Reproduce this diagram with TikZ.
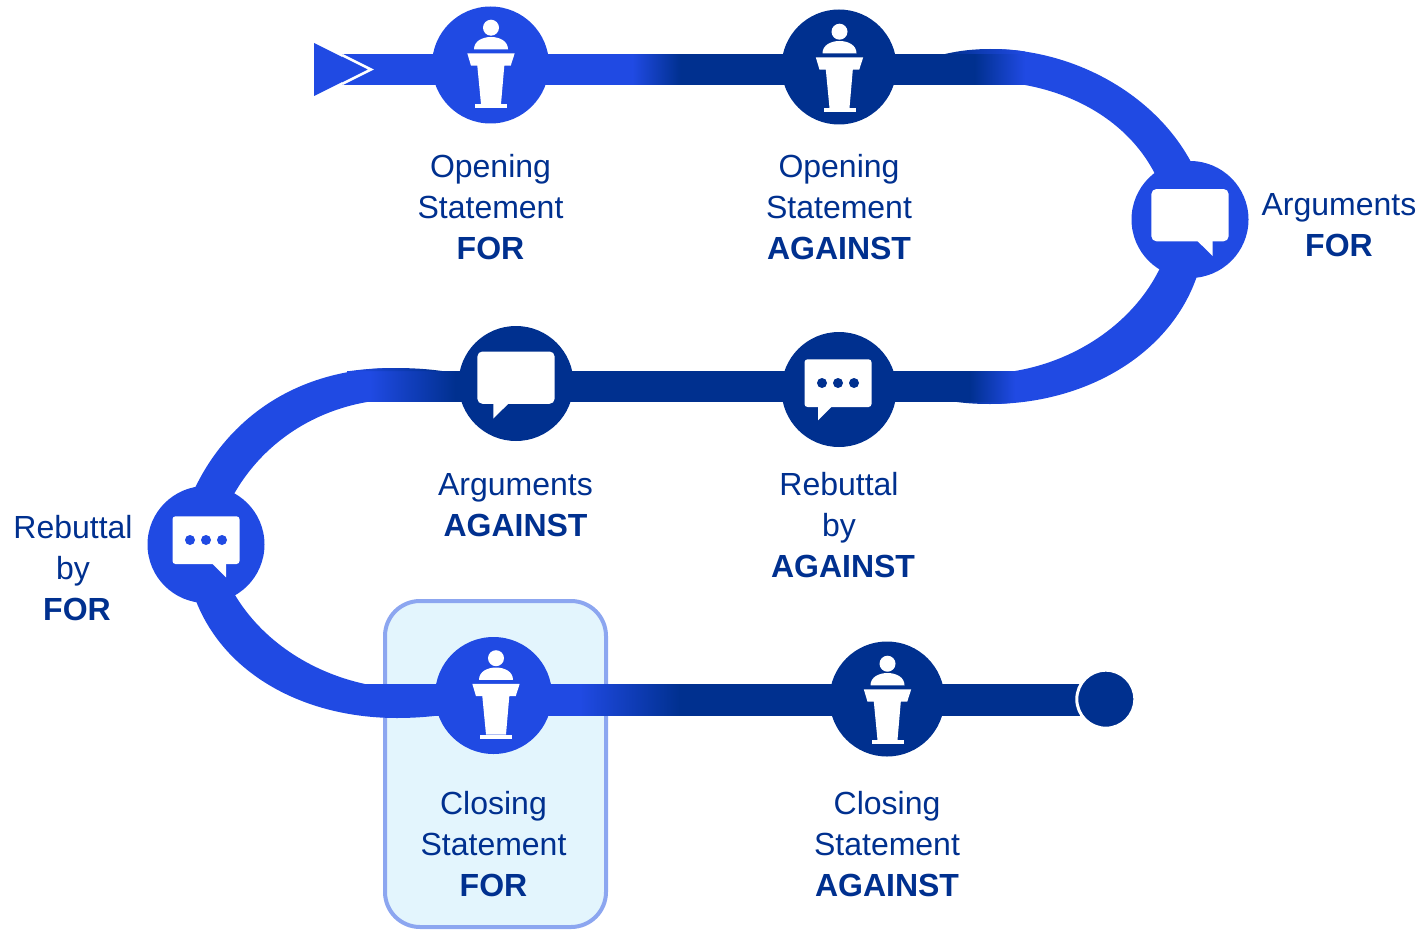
\documentclass[tikz,border=0pt]{standalone}
\usepackage{fontspec}
\setmainfont{Liberation Sans}
\definecolor{trackblue}{HTML}{204AE3}
\definecolor{trackdark}{HTML}{00308F}
\definecolor{boxfill}{HTML}{E3F5FD}
\definecolor{boxline}{HTML}{8CA6F0}
\tikzset{
    stopblue/.style={circle,fill=trackblue,minimum size=117pt,inner sep=0pt},
    stopdark/.style={circle,fill=trackdark,minimum size=115pt,inner sep=0pt},
    caption/.style={text=trackdark,align=center,inner sep=0pt,font=\fontsize{32}{41}\selectfont},
    track/.style={line width=31pt},
    wide track/.style={line width=32pt},
    bluetodark/.style={left color=trackblue,right color=trackdark},
    darktoblue/.style={left color=trackdark,right color=trackblue},
    pics/podium/.style={code={
        \fill[white] (0.5,-37.3) circle (8);
        \fill[white] (-16.5,-15.7) .. controls (-16.5,-24) and (-8,-28) .. (0.5,-28) .. controls (9,-28) and (17.5,-24) .. (17.5,-15.7) -- cycle;
        \fill[white] (-23.2,-11.7) -- (24.2,-11.7) -- (20.2,0.7) -- (13.8,0.7) -- (10.5,39) -- (-9.5,39) -- (-13.2,0.7) -- (-19.5,0.7) -- cycle;
        \fill[white] (-15.5,39) rectangle (16.5,43);
    }},
    pics/bigchat/.style={code={
        \fill[white,rounded corners=5pt] (-38.6,-30.5) rectangle (38.6,21.8);
        \fill[white] (7.7,21) -- (7.7,21.8) -- (22.7,36.5) -- (22.7,21) -- cycle;
    }},
    pics/smallchat/.style={code={
        \fill[white,rounded corners=3pt] (-33.5,-28.2) rectangle (33.5,19.5);
        \fill[white] (6.7,18) -- (6.7,19.5) -- (20,32.8) -- (20,18) -- cycle;
        \foreach \i in {-16,0,16} {
            \fill[#1] (\i,-4.5) circle (5);
        }
    }},
}

\begin{document}
\begin{tikzpicture}[x=1pt,y=-1pt]
    \useasboundingbox (0,0) rectangle (1424,931);
    % highlight behind the closing statement
    \draw[draw=boxline,fill=boxfill,line width=4pt,rounded corners=35pt] (385,601) rectangle (606,927);

    \coordinate (startbar) at (342,69.5);
    \coordinate (fadeA) at (633,69.5);
    \coordinate (fadeB) at (680,69.5);
    \coordinate (fadeC) at (975,69.5);
    \coordinate (fadeE) at (1015,386.5);
    \coordinate (fadeF) at (970,386.5);
    \coordinate (fadeG) at (455,386.5);
    \coordinate (fadeH) at (370,386.5);
    \coordinate (leftbar) at (347,386.5);
    \coordinate (lowbar) at (365,700);
    \coordinate (fadeI) at (580,700);
    \coordinate (fadeJ) at (680,700);
    \coordinate (endbar) at (1090,700);

    % the two big bends
    \fill[trackblue] (990,49) .. controls (1075,49) and (1155,95) .. (1191,162) -- (1155,174) .. controls (1130,125) and (1080,95) .. (1025,85) -- (1025,54) -- (990,54) -- cycle;
    \fill[trackblue] (1197,276) .. controls (1170,355) and (1085,404) .. (990,404) -- (990,395) -- (1015,371) .. controls (1080,360) and (1135,320) .. (1160,268) -- cycle;
    \fill[trackblue] (195,488) .. controls (225,425) and (290,368) .. (395,368) -- (395,385) -- (367,402) .. controls (310,412) and (262,445) .. (234,494) -- cycle;
    \fill[trackblue] (196,601) .. controls (225,675) and (305,718) .. (397,718) .. controls (412,718) and (428,717) .. (442,715) -- (442,684) -- (365,684) .. controls (310,672) and (262,640) .. (235,595) -- cycle;

    % bars
    \draw[track,trackblue] (startbar) -- (fadeA);
    \draw[track,trackdark] (fadeB) -- (fadeC);
    \draw[track,trackdark] (fadeG) -- (fadeF);
    \draw[track,trackblue] (leftbar) -- (fadeH);
    \draw[wide track,trackblue] (lowbar) -- (fadeI);
    \draw[wide track,trackdark] (fadeJ) -- (endbar);
    \shade[bluetodark] (fadeA) ++(-0.5,-15.4) rectangle ++(48,30.8);
    \shade[darktoblue] (fadeC) ++(-0.5,-15.4) rectangle ++(50.5,30.8);
    \shade[darktoblue] (945,54) .. controls (960,50.5) and (975,49) .. (990,49) .. controls (1002,49) and (1014,49.7) .. (1025,51.5) -- (1025,54) -- cycle;
    \shade[darktoblue] (fadeF) ++(-0.5,-15.4) rectangle ++(45.5,30.8);
    \shade[darktoblue] (957,402) .. controls (968,403.5) and (979,404) .. (990,404) .. controls (998,404) and (1007,403.5) .. (1015,402.5) -- (1015,402) -- cycle;
    \shade[bluetodark] (fadeH) ++(-0.5,-15.4) rectangle ++(86,30.8);
    \shade[bluetodark] (350,371) .. controls (365,369) and (380,368) .. (395,368) .. controls (412,368) and (428,369) .. (442,371) -- cycle;
    \shade[bluetodark] (fadeI) ++(-0.5,-15.9) rectangle ++(101,31.8);

    % start arrow
    \fill[trackblue] (314,43) -- (367,69.5) -- (314,96) -- cycle;
    \draw[white,line width=2.5pt,line join=miter] (342,55) -- (371,69.5) -- (342,84);

    % stops
    \node[stopblue] (openFor) at (490.5,65) {};
    \node[stopdark] (openAgainst) at (839,67) {};
    \node[stopblue] (argFor) at (1190,219.5) {};
    \node[stopdark] (rebutAgainst) at (839,389.5) {};
    \node[stopdark] (argAgainst) at (516,383.5) {};
    \node[stopblue] (rebutFor) at (206,544.5) {};
    \node[stopblue] (closeFor) at (493.5,695.5) {};
    \node[stopdark] (closeAgainst) at (887,699) {};
    \node[circle,fill=trackdark,draw=white,line width=3pt,minimum size=58pt,inner sep=0pt] (finish) at (1105.8,699.2) {};

    \pic at (openFor) {podium};
    \pic[yshift=-2pt] at (openAgainst) {podium};
    \pic[xshift=2pt] at (closeFor) {podium};
    \pic[yshift=-2pt] at (closeAgainst) {podium};
    \pic at (argFor) {bigchat};
    \pic[yshift=1.5pt,xscale=-1] at (argAgainst) {bigchat};
    \pic at (rebutFor) {smallchat=trackblue};
    \pic[xshift=-1pt,yshift=2pt,xscale=-1] at (rebutAgainst) {smallchat=trackdark};

    % labels
    \node[caption] (openForText) at (490.5,207) {Opening\\Statement\\\textbf{FOR}};
    \node[caption] (openAgainstText) at (839,207) {Opening\\Statement\\\textbf{AGAINST}};
    \node[caption] (argForText) at (1339,225) {Arguments\\\textbf{FOR}};
    \node[caption] (rebutAgainstText) at (843,525) {\hspace*{-8pt}Rebuttal\\\hspace*{-8pt}by\\\textbf{AGAINST}};
    \node[caption] (argAgainstText) at (515.5,505) {Arguments\\\textbf{AGAINST}};
    \node[caption] (rebutForText) at (73,568) {Rebuttal\\by\\\hspace*{8pt}\textbf{FOR}};
    \node[caption] (closeForText) at (493.5,844) {Closing\\Statement\\\textbf{FOR}};
    \node[caption] (closeAgainstText) at (887,844) {Closing\\Statement\\\textbf{AGAINST}};
\end{tikzpicture}
\end{document}
